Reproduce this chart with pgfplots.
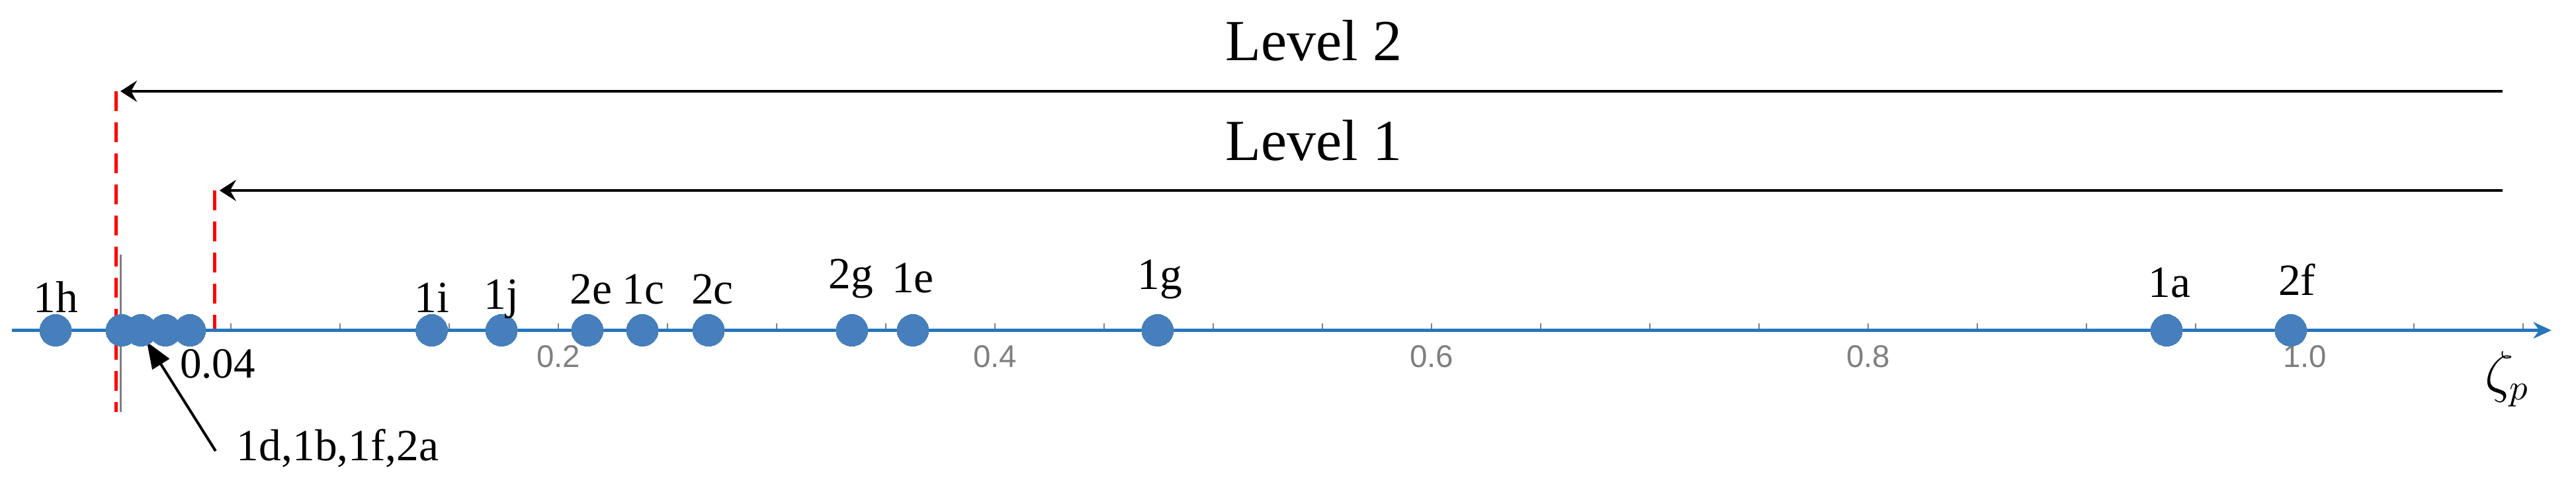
\documentclass[border=0pt]{standalone}
\usepackage{fontspec}
\setmainfont{Liberation Serif}
\newfontfamily\tickfont{Liberation Sans}
\usepackage{pgfplots}
\usepackage{pgfplotstable}
\pgfplotsset{compat=1.18}
\usetikzlibrary{arrows.meta}

\definecolor{axisblue}{RGB}{38,118,186}
\definecolor{ptblue}{RGB}{70,127,187}
\definecolor{tickgray}{RGB}{128,128,128}

% zeta_p of each case
\pgfplotstableread{
x       y
-0.0303 0
0.0000  0
0.0088  0
0.0200  0
0.0312  0
0.1420  0
0.1740  0
0.2133  0
0.2385  0
0.2688  0
0.3345  0
0.3624  0
0.4745  0
0.9367  0
0.9936  0
}\pointdata

% label positions (y in px above the axis line)
\pgfplotstableread{
x       y     label
-0.0303 26.5  1h
0.1420  26.5  1i
0.1740  31.5  1j
0.2150  39.5  2e
0.2390  39.5  1c
0.2706  39.5  2c
0.3340  62.5  2g
0.3624  56.5  1e
0.4756  61.5  1g
0.9380  49.5  1a
0.9964  52.5  2f
}\labeldata

\begin{document}
\begin{tikzpicture}
\begin{axis}[
  x=660pt, y=0.2pt,
  xmin=-0.0503, xmax=1.113, ymin=-244.5, ymax=499.5,
  axis x line=middle, axis y line=none,
  x axis line style={draw=axisblue, line width=0.9pt, -{Stealth[length=5.5pt,width=5pt]}},
  axis on top, clip=false,
  xtick={0.2,0.4,0.6,0.8,1.0},
  minor xtick={0.05,0.1,0.15,0.25,0.3,0.35,0.45,0.5,0.55,0.65,0.7,0.75,0.85,0.9,0.95,1.05,1.1},
  ytick=\empty,
  xtick align=inside,
  major tick length=2pt, minor tick length=2pt,
  every tick/.style={draw=tickgray, line width=0.5pt},
  x tick label style={font=\tickfont\fontsize{9.5}{11}\selectfont, text=tickgray,
    inner sep=0pt, yshift=-4.4pt,
    /pgf/number format/.cd, fixed, fixed zerofill, precision=1, assume math mode=true},
]
\addplot[only marks, color=ptblue, mark=*, mark size=4.8pt,
  mark options={draw=ptblue, fill=ptblue, line width=0pt}]
  table[x=x, y=y] {\pointdata};

\addplot[draw=none, mark=none, nodes near coords, point meta=explicit symbolic,
  nodes near coords align={anchor=base},
  every node near coord/.append style={font=\fontsize{13.5}{16}\selectfont, inner sep=0pt, text=black}]
  table[x=x, y=y, meta=label] {\labeldata};

% thresholds
\draw[red, line width=1pt, dash pattern=on 6pt off 3.4pt]
  (axis cs:-0.0027,361.5) -- (axis cs:-0.0027,-123.5);
\draw[red, line width=1pt, dash pattern=on 6pt off 3.4pt]
  (axis cs:0.0427,211.5) -- (axis cs:0.0427,0);
\draw[tickgray, line width=0.6pt] (axis cs:-0.0006,114.5) -- (axis cs:-0.0006,-123.5);

\draw[black, line width=0.8pt, -{Stealth[length=5pt,width=6.4pt,inset=1.8pt]}]
  (axis cs:1.0906,361.5) -- (axis cs:-0.0006,361.5);
\draw[black, line width=0.8pt, -{Stealth[length=5pt,width=6.4pt,inset=1.8pt]}]
  (axis cs:1.0906,211.5) -- (axis cs:0.0448,211.5);
\node[anchor=base, font=\fontsize{17.6}{21}\selectfont, inner sep=0pt] at (axis cs:0.546,407.5) {Level 2};
\node[anchor=base, font=\fontsize{17.6}{21}\selectfont, inner sep=0pt] at (axis cs:0.546,256.5) {Level 1};

\node[anchor=base, font=\fontsize{13}{15}\selectfont, inner sep=0pt] at (axis cs:0.0439,-72.5) {0.04};
\node[anchor=base west, font=\fontsize{13.5}{16}\selectfont, inner sep=0pt] at (axis cs:0.0524,-197.5) {1d,1b,1f,2a};
\draw[black, line width=0.8pt, -{Triangle[length=8pt,width=6pt]}]
  (axis cs:0.043,-182.5) -- (axis cs:0.0115,-17.5);

\node[font=\fontsize{16}{19}\selectfont, inner sep=0pt] at (axis cs:1.0927,-73.5) {$\zeta_p$};

\path (axis cs:-0.05576,-244.5) rectangle (axis cs:1.12424,499.5);
\end{axis}
\end{tikzpicture}
\end{document}
